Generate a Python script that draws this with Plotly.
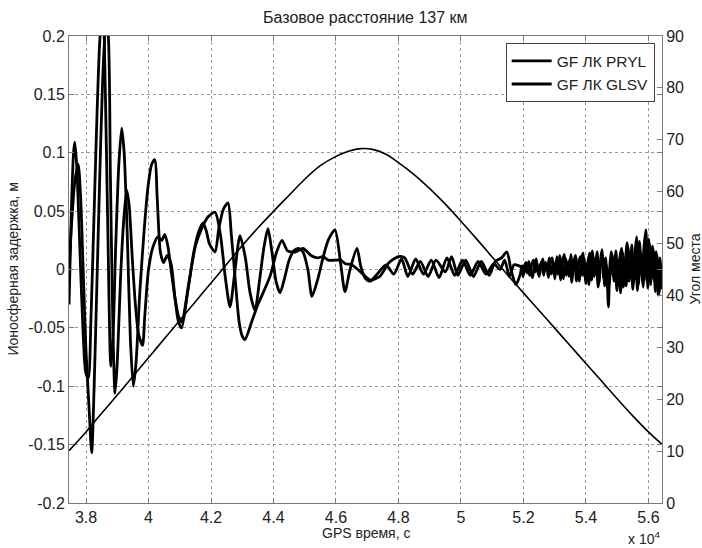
import plotly.graph_objects as go

# ---------------- data ----------------
# Elevation angle (right axis, degrees)
ELEV_T = [37456, 38000, 38500, 39000, 39500, 40000, 40500, 41000, 41500, 42000,
          42500, 43000, 43500, 44000, 44500, 45000, 45500, 46000, 46400, 46800,
          47200, 47600, 48000, 48500, 49000, 49500, 50000, 50500, 51000, 51500,
          52000, 52500, 53000, 53500, 54000, 54500, 55000, 55500, 56000, 56435]
ELEV_V = [10.1, 13.7, 17.3, 20.8, 24.4, 28.0, 31.6, 35.2, 38.8, 42.4,
          46.0, 49.6, 53.0, 56.2, 59.3, 62.4, 65.0, 66.8, 67.8, 68.3,
          68.1, 67.2, 65.6, 63.3, 60.6, 57.6, 54.3, 50.9, 47.4, 43.9,
          40.5, 37.1, 33.7, 30.3, 26.9, 23.5, 20.1, 16.8, 13.7, 11.3]

# GF ЛК PRYL – oscillating part
PRYL_T = [37456, 37530, 37600, 37640, 37700, 37800, 37900, 37990, 38074, 38160,
          38260, 38360, 38450, 38544, 38620, 38700, 38794, 38860, 38950, 39050,
          39142, 39220, 39320, 39420, 39514, 39600, 39720, 39850, 39980, 40100,
          40200, 40280, 40380, 40480, 40600, 40720, 40850, 40960, 41060, 41250,
          41450, 41600, 41744, 41850, 41950, 42128, 42250, 42400, 42544, 42650,
          42780, 42900, 43000, 43088, 43300, 43500, 43700, 43900, 44100, 44272,
          44450, 44700, 44944, 45200, 45400, 45584, 45750, 45968, 46150, 46300,
          46500, 46700, 46864, 47100, 47400, 47700, 48000, 48200, 48450, 48700,
          48950, 49200, 49500, 49700, 49900, 50150, 50400, 50650, 50900, 51100,
          51300, 51470, 51600, 51760]
PRYL_V = [-0.030, 0.050, 0.100, 0.109, 0.090, 0.020, -0.050, -0.088, -0.093, -0.040,
          0.050, 0.140, 0.200, 0.220, 0.150, 0.030, -0.083, -0.060, 0.020, 0.090,
          0.121, 0.100, 0.030, -0.060, -0.100, -0.080, -0.020, 0.030, 0.070, 0.090,
          0.094, 0.060, 0.015, 0.006, 0.012, 0.005, -0.025, -0.045, -0.050, -0.020,
          0.015, 0.032, 0.040, 0.033, 0.022, 0.015, 0.035, 0.052, 0.057, 0.030,
          -0.010, -0.045, -0.057, -0.060, -0.045, -0.030, -0.018, -0.005, 0.015, 0.025,
          0.016, 0.015, 0.018, 0.012, 0.010, 0.011, 0.008, 0.008, 0.008, 0.005,
          0.004, 0.000, -0.004, -0.009, -0.006, 0.006, 0.011, 0.010, -0.004, 0.007,
          -0.006, 0.008, -0.002, 0.011, -0.005, 0.008, -0.006, 0.007, -0.005, 0.007,
          0.010, 0.015, 0.000, -0.013]
# GF ЛК PRYL – noisy tail, one value every 60 s from 51900 s
PRYL_TAIL_T0 = 51900
PRYL_TAIL = [-0.004, 0.003, -0.002, 0.006, 0.001, -0.005, 0.004, 0.008, -0.002, 0.005,
             -0.006, 0.002, 0.009, -0.001, 0.004, -0.007, 0.006, 0.010, -0.003,
             0.007, -0.004, 0.012, 0.002, -0.008, 0.010, 0.004, -0.006, 0.013, -0.002,
             0.008, -0.010, 0.005, 0.011, -0.005, 0.009, -0.012,
             0.006, 0.014, -0.009, 0.010, -0.004, 0.015, -0.011, 0.007, 0.012, -0.014,
             0.004, -0.032, 0.008, 0.013, -0.010, 0.016,
             -0.012, 0.009, 0.018, -0.015, 0.006, 0.023, -0.010, 0.014, -0.017, 0.010,
             0.028, -0.013, 0.016, -0.006, 0.020, 0.034, -0.016, 0.022, -0.008, 0.017,
             -0.019, 0.012, -0.021, 0.004]

# GF ЛК GLSV – oscillating part
GLSV_T = [37456, 37540, 37640, 37750, 37830, 37920, 38000, 38100, 38182, 38260,
          38360, 38460, 38560, 38640, 38700, 38780, 38860, 38928, 39000, 39100,
          39200, 39300, 39380, 39480, 39580, 39680, 39808, 39880, 40000, 40150,
          40300, 40420, 40520, 40620, 40720, 40850, 40960, 41060, 41300, 41500,
          41700, 41900, 42128, 42300, 42450, 42608, 42750, 42928, 43100, 43250,
          43408, 43550, 43700, 43824, 43950, 44080, 44208, 44350, 44500, 44650,
          44800, 44944, 45100, 45232, 45400, 45584, 45750, 45968, 46150, 46288,
          46450, 46672, 46800, 46950, 47100, 47350, 47600, 47850, 48100, 48300,
          48550, 48800, 49050, 49300, 49550, 49800, 50050, 50300, 50550, 50800,
          51050, 51250, 51400, 51550, 51700]
GLSV_V = [0.000, 0.040, 0.075, 0.090, 0.060, -0.010, -0.070, -0.120, -0.157, -0.100,
          0.000, 0.100, 0.180, 0.210, 0.205, 0.080, -0.050, -0.106, -0.080, -0.010,
          0.040, 0.068, 0.055, 0.010, -0.030, -0.055, -0.065, -0.040, 0.000, 0.020,
          0.028, 0.025, 0.030, 0.020, 0.000, -0.025, -0.040, -0.045, -0.010, 0.020,
          0.035, 0.045, 0.049, 0.030, -0.005, -0.032, -0.005, 0.029, 0.010, -0.020,
          -0.035, -0.010, 0.020, 0.035, 0.015, -0.010, -0.020, -0.008, 0.008, 0.016,
          0.018, 0.015, 0.000, -0.023, -0.010, 0.010, 0.025, 0.034, 0.005, -0.019,
          0.000, 0.018, 0.002, -0.008, -0.010, -0.003, 0.004, -0.004, 0.009, -0.006,
          0.009, -0.004, 0.008, -0.007, 0.010, -0.005, 0.008, -0.005, 0.007, -0.004,
          0.005, 0.000, 0.008, -0.006, 0.004]
# GF ЛК GLSV – noisy tail, one value every 60 s from 51930 s
GLSV_TAIL_T0 = 51930
GLSV_TAIL = [0.002, -0.006, 0.005, -0.003, 0.007, -0.002, -0.007, 0.004, 0.009, -0.004,
             0.003, 0.007, -0.005, 0.006, 0.001, 0.010, -0.004, 0.003, -0.008,
             0.011, 0.003, -0.009, 0.007, 0.013, -0.005, 0.002, 0.009, -0.011, 0.006,
             0.012, -0.003, -0.010, 0.008, 0.014, -0.007, 0.005,
             -0.013, 0.009, 0.016, -0.006, 0.011, -0.015, 0.003, 0.017, -0.008, 0.010,
             -0.016, -0.012, 0.015, -0.005, 0.012, -0.018,
             0.008, -0.020, 0.015, 0.003, -0.014, 0.019, -0.007, 0.021, -0.011, 0.013,
             -0.018, 0.024, 0.002, -0.015, 0.019, -0.010, 0.026, -0.013, 0.020, -0.009,
             0.015, -0.022, 0.010, -0.017]
TAIL_STEP = 60

X_TICKS = [38000, 40000, 42000, 44000, 46000, 48000, 50000, 52000, 54000, 56000]
X_TICKTEXT = ["3.8", "4", "4.2", "4.4", "4.6", "4.8", "5", "5.2", "5.4", "5.6"]
Y_TICKS = [-0.2, -0.15, -0.1, -0.05, 0, 0.05, 0.1, 0.15, 0.2]
Y_TICKTEXT = ["-0.2", "-0.15", "-0.1", "-0.05", "0", "0.05", "0.1", "0.15", "0.2"]
Y2_TICKS = [0, 10, 20, 30, 40, 50, 60, 70, 80, 90]

# ---------------- build series ----------------
pryl_t = PRYL_T + [PRYL_TAIL_T0 + TAIL_STEP * i for i in range(len(PRYL_TAIL))]
pryl_v = PRYL_V + PRYL_TAIL
glsv_t = GLSV_T + [GLSV_TAIL_T0 + TAIL_STEP * i for i in range(len(GLSV_TAIL))]
glsv_v = GLSV_V + GLSV_TAIL

FONT = "Liberation Sans, Arial, sans-serif"
TXT = "#222222"
AX = "#7a7a7a"

fig = go.Figure()
fig.add_trace(go.Scatter(x=ELEV_T, y=ELEV_V, yaxis="y2", mode="lines",
                         line=dict(color="black", width=1.6, shape="spline", smoothing=1.0),
                         showlegend=False, hoverinfo="skip"))
fig.add_trace(go.Scatter(x=pryl_t, y=pryl_v, mode="lines", name="GF ЛК PRYL",
                         line=dict(color="black", width=2.8, shape="spline", smoothing=0.7)))
fig.add_trace(go.Scatter(x=glsv_t, y=glsv_v, mode="lines", name="GF ЛК GLSV",
                         line=dict(color="black", width=2.8, shape="spline", smoothing=0.7)))

axis_common = dict(ticks="inside", ticklen=5, tickcolor=AX, showline=True, linecolor=AX,
                   linewidth=1, zeroline=False, tickfont=dict(family=FONT, size=16, color=TXT))

fig.update_layout(
    width=702, height=548,
    margin=dict(l=69, r=40, t=36, b=45),
    paper_bgcolor="white", plot_bgcolor="white",
    font=dict(family=FONT, color=TXT),
    xaxis=dict(range=[37455, 56435], tickvals=X_TICKS, ticktext=X_TICKTEXT,
               mirror="ticks", showgrid=True, gridcolor="#9a9a9a", griddash="dot",
               gridwidth=1, **axis_common),
    yaxis=dict(range=[-0.2, 0.2], tickvals=Y_TICKS, ticktext=Y_TICKTEXT,
               mirror="ticks", showgrid=True, gridcolor="#9a9a9a", griddash="dot",
               gridwidth=1, **axis_common),
    yaxis2=dict(range=[0, 90], tickvals=Y2_TICKS, overlaying="y", side="right",
                showgrid=False, **axis_common),
    legend=dict(x=0.7364, y=0.9844, xanchor="left", yanchor="top",
                bgcolor="white", bordercolor="#404040", borderwidth=1, itemwidth=40,
                font=dict(family=FONT, size=15.5, color=TXT)),
    showlegend=True,
    annotations=[
        dict(text="Базовое расстояние 137 км", xref="paper", yref="paper", x=0.5, y=1,
             yshift=19, showarrow=False, yanchor="middle", font=dict(size=16, family=FONT, color=TXT)),
        dict(text="GPS время, с", xref="paper", yref="paper", x=0.5, y=0,
             yshift=-30, showarrow=False, yanchor="middle", font=dict(size=14, family=FONT, color=TXT)),
        dict(text="Ионосферная задержка, м", xref="paper", yref="paper", x=0, y=0.5,
             xshift=-57, textangle=-90, showarrow=False, xanchor="center",
             font=dict(size=14, family=FONT, color=TXT)),
        dict(text="Угол места", xref="paper", yref="paper", x=1, y=0.5,
             xshift=32, textangle=-90, showarrow=False, xanchor="center",
             font=dict(size=14, family=FONT, color=TXT)),
        dict(text="x 10<sup>4</sup>", xref="paper", yref="paper", x=1, y=0,
             xanchor="right", yanchor="middle", yshift=-35, showarrow=False,
             font=dict(size=14, family=FONT, color=TXT)),
    ],
)

fig.write_html("out.html")
